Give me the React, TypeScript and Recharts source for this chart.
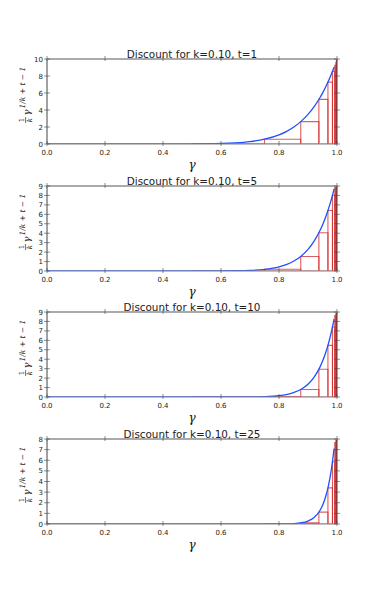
import React from "react";
import {
  ComposedChart,
  Line,
  XAxis,
  YAxis,
  ReferenceArea,
  ReferenceLine,
} from "recharts";

// ---- data ----
const kValue = "0.10";
const tValues = [1, 5, 10, 25];
const yMaxes = [10, 9, 9, 8];
const yTickSets = [
  [0, 2, 4, 6, 8, 10],
  [0, 1, 2, 3, 4, 5, 6, 7, 8, 9],
  [0, 1, 2, 3, 4, 5, 6, 7, 8, 9],
  [0, 1, 2, 3, 4, 5, 6, 7, 8],
];
const xTicks = [0, 0.2, 0.4, 0.6, 0.8, 1.0];

// curve samples (gamma)
const gammas = [
  0, 0.1, 0.2, 0.3, 0.4, 0.5, 0.6, 0.65, 0.7, 0.75, 0.8, 0.825, 0.85, 0.875,
  0.9, 0.92, 0.94, 0.95, 0.96, 0.97, 0.98, 0.99,
];
const curveT1 = [
  0, 0, 0, 0, 0.001, 0.0098, 0.06, 0.135, 0.282, 0.563, 1.074, 1.461, 1.969,
  2.631, 3.487, 4.344, 5.386, 5.987, 6.648, 7.374, 8.171, 9.044,
];
const curveT5 = [
  0, 0, 0, 0, 0, 0.0006, 0.0078, 0.024, 0.068, 0.178, 0.44, 0.677, 1.028,
  1.542, 2.288, 3.112, 4.205, 4.877, 5.647, 6.528, 7.536, 8.687,
];
const curveT10 = [
  0, 0, 0, 0, 0, 0, 0.0006, 0.0028, 0.0114, 0.0423, 0.144, 0.259, 0.456,
  0.791, 1.351, 2.051, 3.086, 3.774, 4.604, 5.606, 6.812, 8.262,
];
const curveT25 = [
  0, 0, 0, 0, 0, 0, 0, 0, 0, 0.0006, 0.0051, 0.0145, 0.0398, 0.107, 0.278,
  0.587, 1.22, 1.748, 2.496, 3.55, 5.031, 7.106,
];
const curves = [curveT1, curveT5, curveT10, curveT25];

// step rectangles: left edge, right edge, height
const barLefts = [
  0.5, 0.75, 0.875, 0.9375, 0.96875, 0.984375, 0.9921875, 0.99609375,
  0.998046875, 0.9990234375,
];
const barRights = [
  0.75, 0.875, 0.9375, 0.96875, 0.984375, 0.9921875, 0.99609375, 0.998046875,
  0.9990234375, 0.99951171875,
];
const barsT1 = [0.0098, 0.563, 2.631, 5.245, 7.28, 8.543, 9.246, 9.616, 9.806, 9.903];
const barsT5 = [0.0006, 0.178, 1.542, 4.051, 6.412, 8.022, 8.96, 9.467, 9.73, 9.864];
const barsT10 = [0.00002, 0.0423, 0.791, 2.934, 5.47, 7.414, 8.616, 9.283, 9.635, 9.816];
const barsT25 = [0, 0.0006, 0.107, 1.114, 3.398, 5.854, 7.659, 8.754, 9.357, 9.673];
const bars = [barsT1, barsT5, barsT10, barsT25];

// ---- layout ----
const W = 374;
const PLOT_LEFT = 47;
const PLOT_W = 290;
const PLOT_H = 85;
const MARGIN_TOP = 22;
const X_AXIS_H = 38;
const plotTops = [59, 185.5, 312, 438.5];

const FONT = "'DejaVu Sans', sans-serif";
const SERIF = "'DejaVu Serif', serif";
const TICK_COLOR = "#444";

const XTick = (props: any) => {
  const { x, y, payload } = props;
  return (
    <g>
      <line x1={x} y1={y - 3} x2={x} y2={y + 2} stroke={TICK_COLOR} strokeWidth={0.6} />
      <line
        x1={x}
        y1={y - PLOT_H - 3}
        x2={x}
        y2={y - PLOT_H + 2}
        stroke={TICK_COLOR}
        strokeWidth={0.6}
      />
      <text
        x={x}
        y={y + 11}
        textAnchor="middle"
        fontSize={7}
        fontFamily={FONT}
        fill="#222"
      >
        {Number(payload.value).toFixed(1)}
      </text>
    </g>
  );
};

const YTick = (props: any) => {
  const { x, y, payload } = props;
  return (
    <g>
      <line x1={x - 3} y1={y} x2={x + 3} y2={y} stroke={TICK_COLOR} strokeWidth={0.6} />
      <line
        x1={x + PLOT_W - 3}
        y1={y}
        x2={x + PLOT_W + 3}
        y2={y}
        stroke={TICK_COLOR}
        strokeWidth={0.6}
      />
      <text
        x={x - 4}
        y={y + 2.6}
        textAnchor="end"
        fontSize={7}
        fontFamily={FONT}
        fill="#222"
      >
        {payload.value}
      </text>
    </g>
  );
};

const YLabel = (props: any) => {
  const vb = props.viewBox || {};
  const cy = (vb.y || 0) + (vb.height || 0) / 2 - 8;
  const cx = 25;
  const start = -30;
  return (
    <g transform={`rotate(-90 ${cx} ${cy})`} fill="#111">
      <text
        x={cx + start + 3.5}
        y={cy - 1}
        fontSize={7}
        fontFamily={SERIF}
        textAnchor="middle"
      >
        1
      </text>
      <line
        x1={cx + start + 0.5}
        y1={cy + 0.6}
        x2={cx + start + 6.5}
        y2={cy + 0.6}
        stroke="#111"
        strokeWidth={0.6}
      />
      <text
        x={cx + start + 3.5}
        y={cy + 6.6}
        fontSize={7}
        fontFamily={SERIF}
        fontStyle="italic"
        textAnchor="middle"
      >
        k
      </text>
      <text
        x={cx + start + 8}
        y={cy + 4.5}
        fontSize={10}
        fontFamily={SERIF}
        fontStyle="italic"
      >
        γ
      </text>
      <text
        x={cx + start + 15}
        y={cy + 0}
        fontSize={7.5}
        fontFamily={SERIF}
        fontStyle="italic"
      >
        1/k + t − 1
      </text>
    </g>
  );
};

const XLabel = (props: any) => {
  const vb = props.viewBox || {};
  return (
    <text
      x={(vb.x || 0) + (vb.width || 0) / 2}
      y={(vb.y || 0) + 25}
      textAnchor="middle"
      fontSize={12}
      fontFamily={SERIF}
      fontStyle="italic"
      fill="#111"
    >
      γ
    </text>
  );
};

function Panel({ idx }: { idx: number }) {
  const t = tValues[idx];
  const ymax = yMaxes[idx];
  const data = gammas.map((g, i) => ({ x: g, y: curves[idx][i] }));
  const title = `Discount for k=${kValue}, t=${t}`;
  return (
    <div
      style={{
        position: "absolute",
        left: 0,
        top: plotTops[idx] - MARGIN_TOP,
        width: W,
        height: MARGIN_TOP + PLOT_H + X_AXIS_H,
      }}
    >
      <ComposedChart
        width={W}
        height={MARGIN_TOP + PLOT_H + X_AXIS_H}
        data={data}
        margin={{ top: MARGIN_TOP, right: W - PLOT_LEFT - PLOT_W, bottom: 0, left: 0 }}
      >
        <XAxis
          dataKey="x"
          type="number"
          domain={[0, 1]}
          ticks={xTicks}
          tick={<XTick />}
          tickLine={false}
          axisLine={false}
          tickSize={0}
          tickMargin={0}
          height={X_AXIS_H}
          interval={0}
          label={{ content: <XLabel /> }}
        />
        <YAxis
          type="number"
          domain={[0, ymax]}
          ticks={yTickSets[idx]}
          tick={<YTick />}
          tickLine={false}
          axisLine={false}
          tickSize={0}
          tickMargin={0}
          width={PLOT_LEFT}
          interval={0}
          allowDataOverflow
          label={{ content: <YLabel /> }}
        />
        {barLefts.map((l, i) => (
          <ReferenceArea
            key={i}
            x1={l}
            x2={barRights[i]}
            y1={0}
            y2={Math.min(bars[idx][i], ymax)}
            fill="none"
            fillOpacity={0}
            stroke="rgb(210,40,40)"
            strokeOpacity={0.75}
            strokeWidth={1.1}
            ifOverflow="hidden"
          />
        ))}
        <Line
          dataKey="y"
          type="monotone"
          stroke="#1f4fff"
          strokeWidth={1.3}
          dot={false}
          isAnimationActive={false}
        />
        <ReferenceLine x={0} stroke="#444" strokeWidth={1} />
        <ReferenceLine x={1} stroke="#444" strokeWidth={1} />
        <ReferenceLine y={0} stroke="#888" strokeWidth={1.6} strokeOpacity={0.7} />
        <ReferenceLine
          y={ymax}
          stroke="#aaa"
          strokeWidth={2}
          label={{
            content: (p: any) => {
              const vb = p.viewBox || {};
              return (
                <text
                  x={(vb.x || 0) + (vb.width || 0) / 2}
                  y={(vb.y || 0) - 1.5}
                  textAnchor="middle"
                  fontSize={10.4}
                  fontFamily={FONT}
                  fill="#222"
                >
                  {title}
                </text>
              );
            },
          }}
        />
      </ComposedChart>
    </div>
  );
}

export default function App() {
  return (
    <div
      style={{
        position: "absolute",
        left: 0,
        top: 0,
        width: W,
        height: 598,
        background: "#fff",
      }}
    >
      {tValues.map((_, i) => (
        <Panel key={i} idx={i} />
      ))}
    </div>
  );
}
